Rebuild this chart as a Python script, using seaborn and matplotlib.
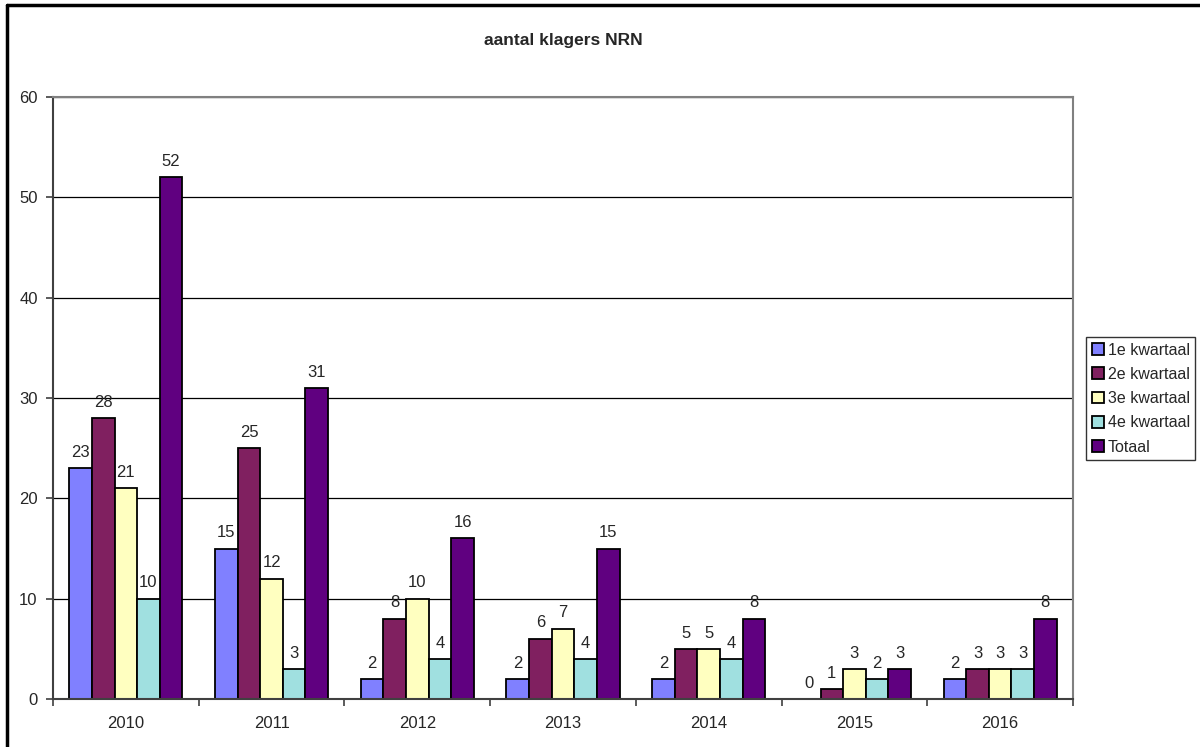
import numpy as np
import pandas as pd
import seaborn as sns
import matplotlib.pyplot as plt

# data
years = ['2010', '2011', '2012', '2013', '2014', '2015', '2016']
kw1 = [23, 15, 2, 2, 2, 0, 2]
kw2 = [28, 25, 8, 6, 5, 1, 3]
kw3 = [21, 12, 10, 7, 5, 3, 3]
kw4 = [10, 3, 4, 4, 4, 2, 3]
totaal = [52, 31, 16, 15, 8, 3, 8]
series = ['1e kwartaal', '2e kwartaal', '3e kwartaal', '4e kwartaal', 'Totaal']
colors = ['#8080FF', '#802060', '#FFFFC0', '#A0E0E0', '#600080']

df = pd.DataFrame({'jaar': years, series[0]: kw1, series[1]: kw2,
                   series[2]: kw3, series[3]: kw4, series[4]: totaal})
df = df.melt(id_vars='jaar', var_name='serie', value_name='aantal')

sns.set_style('white')
plt.rcParams['font.family'] = ['Liberation Sans', 'DejaVu Sans']

fig = plt.figure(figsize=(12, 7.47), dpi=100)
ax = fig.add_axes([53/1200, 1 - 699/747, 1020/1200, 602/747])

sns.barplot(data=df, x='jaar', y='aantal', hue='serie', hue_order=series,
            palette=colors, saturation=1, width=0.776, edgecolor='black',
            linewidth=1.3, ax=ax, legend=True)

for c in ax.containers:
    ax.bar_label(c, fmt='%g', padding=6, fontsize=12)

ax.set_ylim(0, 60)
ax.set_yticks(range(0, 61, 10))
ax.set_xlim(-0.5, len(years) - 0.5)
ax.yaxis.grid(True, color='black', linewidth=0.9)
ax.set_axisbelow(True)
ax.set_xlabel('')
ax.set_ylabel('')
ax.tick_params(axis='both', labelsize=12)

# group boundary ticks like the original
ax.set_xticks(np.arange(len(years)))
ax.set_xticks(np.arange(-0.5, len(years)), minor=True)
ax.tick_params(axis='x', which='major', length=0, pad=12)
ax.tick_params(axis='x', which='minor', length=5, color='#404040', width=1.2, direction='out', bottom=True)
ax.tick_params(axis='y', length=5, color='#404040', width=1.2, direction='out', left=True, pad=6)

for side in ['left', 'bottom']:
    ax.spines[side].set_color('#404040')
    ax.spines[side].set_linewidth(1.5)
for side in ['top', 'right']:
    ax.spines[side].set_color('#808080')
    ax.spines[side].set_linewidth(1.5)

ax.get_legend().remove()
handles, labels = ax.get_legend_handles_labels()
leg = fig.legend(handles, labels, loc='upper left', bbox_to_anchor=(1086/1200, 1 - 337/747),
                 fontsize=11.5, frameon=True, fancybox=False, edgecolor='black',
                 handlelength=0.75, handleheight=0.75, handletextpad=0.25,
                 labelspacing=0.58, borderpad=0.35, borderaxespad=0)
leg.get_frame().set_linewidth(1.0)

fig.text(563/1200, 1 - 40/747, 'aantal klagers NRN', ha='center', va='center',
         fontsize=12.5, fontweight='bold')

# outer chart border
fig.add_artist(plt.Line2D([7/1200, 7/1200], [0, 1 - 5/747], color='black', linewidth=2.5))
fig.add_artist(plt.Line2D([7/1200, 1], [1 - 5/747, 1 - 5/747], color='black', linewidth=2.5))

fig.savefig('out.png', dpi=100)
